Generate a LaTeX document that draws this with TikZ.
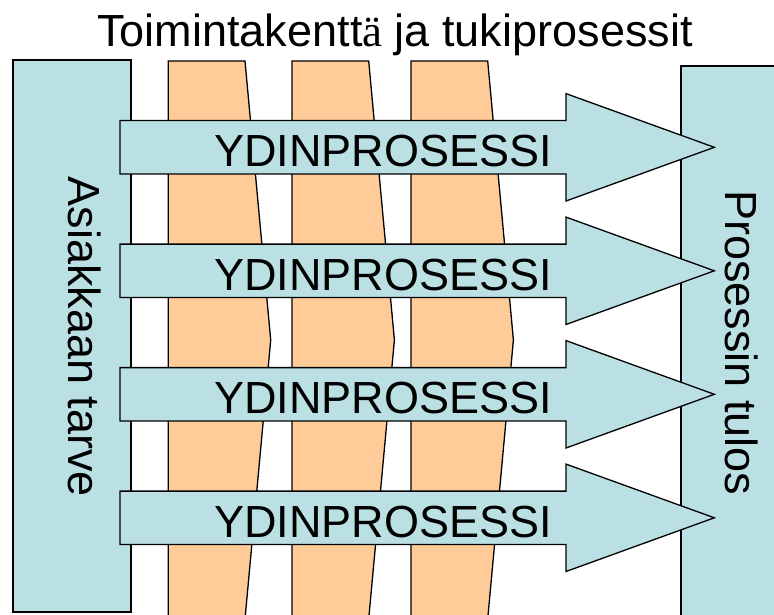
\documentclass[tikz,border=0pt]{standalone}
\usepackage{fontspec}
\setmainfont{Liberation Sans}
\newfontfamily\serifa{Liberation Serif}
\definecolor{pblue}{HTML}{BBE0E3}
\definecolor{porange}{HTML}{FFCC99}
\begin{document}
\begin{tikzpicture}[x=1pt,y=-1pt,line width=1.3pt,line join=miter,
  bluebox/.style={draw=black,fill=pblue},
  band/.style={draw=black,fill=porange},
  lbl/.style={font=\fontsize{45}{50}\selectfont,inner sep=0pt}]
\useasboundingbox (0,0) rectangle (774,615);
\clip (0,0) rectangle (774,615);
% side boxes
\draw[bluebox] (13,60) rectangle (131,612);
\draw[bluebox] (681,66) rectangle (790,630);
% support process bands
\foreach \L in {168.3,292,411}{
  \draw[band] (\L,61) -- ({\L+76.7},61) -- ({\L+102.4},340) -- ({\L+76.7},619) -- (\L,619) -- cycle;
}
% core process arrows
\foreach \c/\n in {147.3/p1,270.8/p2,394.3/p3,517.8/p4}{
  \draw[bluebox] (120,{\c-26.7}) -- (566,{\c-26.7}) -- (566,{\c-53.7}) -- (714.3,\c)
     -- (566,{\c+53.7}) -- (566,{\c+26.7}) -- (120,{\c+26.7}) -- cycle;
  \node[lbl,anchor=base] (\n) at (383,{\c+19.6}) {YDINPROSESSI};
}
% texts
\node[lbl,anchor=base] (title) at (395,47) {Toimintakentt{\serifa ä} ja tukiprosessit};
\node[lbl,anchor=base,rotate=-90] (need) at (68,337) {Asiakkaan tarve};
\node[lbl,anchor=base,rotate=-90] (result) at (725,343) {Prosessin tulos};
\end{tikzpicture}
\end{document}
